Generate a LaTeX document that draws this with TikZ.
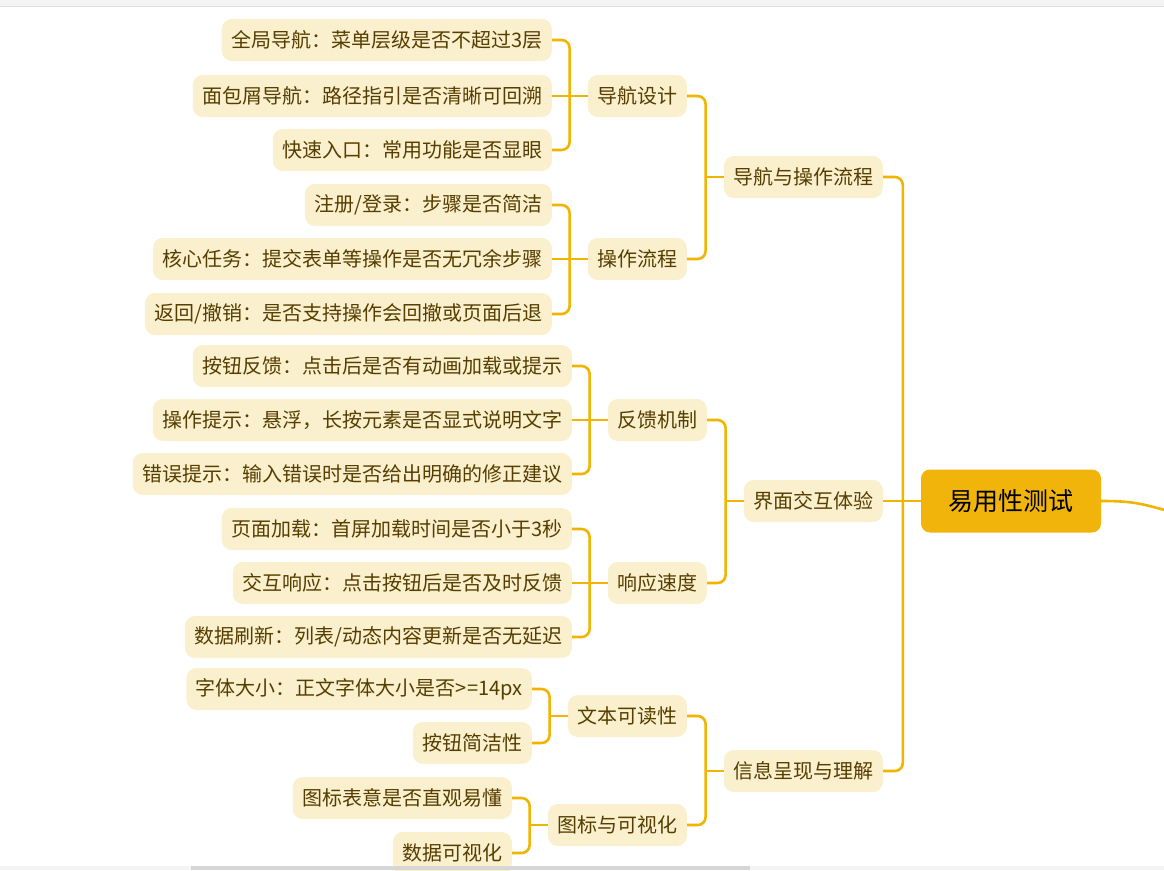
\documentclass[tikz,border=0pt]{standalone}
\usepackage{fontspec}
\newfontfamily\cjk{Noto Sans CJK SC}
\usetikzlibrary{positioning,calc}
\definecolor{MapGold}{RGB}{240,181,0}
\definecolor{RootGold}{RGB}{240,180,10}
\definecolor{NodeCream}{RGB}{251,240,206}
\definecolor{TextBrown}{RGB}{86,62,0}
\definecolor{BarGray}{RGB}{244,244,244}
\definecolor{LineGray}{RGB}{224,224,224}
\definecolor{ThumbGray}{RGB}{214,214,214}
\tikzset{
  rootbox/.style={fill=RootGold,rounded corners=9pt,minimum width=180pt,
                  minimum height=63pt,inner sep=0pt,
                  font=\cjk\fontsize{25}{30}\selectfont,text=black},
  lbox/.style={fill=NodeCream,rounded corners=10pt,minimum height=42pt,
               inner xsep=9.5pt,inner ysep=0pt,anchor=east,
               font=\cjk\fontsize{20}{24}\selectfont,text=TextBrown},
  link/.style={MapGold,line width=2.6pt,rounded corners=8pt},
}
\begin{document}
\begin{tikzpicture}[x=1pt,y=-1pt]
        \useasboundingbox[fill=white] (0,0) rectangle (1164,870);
        \node[rootbox] (root) at (1011,501) {易用性测试};
        \node[lbox] (flow) at (883,177) {导航与操作流程};
        \node[lbox] (ui) at (883,501) {界面交互体验};
        \node[lbox] (info) at (883,771) {信息呈现与理解};
        \node[lbox] (navd) at (687,96) {导航设计};
        \node[lbox] (opfl) at (687,259) {操作流程};
        \node[lbox] (fdbk) at (707,420) {反馈机制};
        \node[lbox] (resp) at (707,583) {响应速度};
        \node[lbox] (read) at (687,716) {文本可读性};
        \node[lbox] (icon) at (687,825) {图标与可视化};
        \node[lbox] (n1) at (552,40) {全局导航：菜单层级是否不超过3层};
        \node[lbox] (n2) at (552,96) {面包屑导航：路径指引是否清晰可回溯};
        \node[lbox] (n3) at (552,150) {快速入口：常用功能是否显眼};
        \node[lbox] (o1) at (552,205) {注册/登录：步骤是否简洁};
        \node[lbox] (o2) at (552,259) {核心任务：提交表单等操作是否无冗余步骤};
        \node[lbox] (o3) at (552,314) {返回/撤销：是否支持操作会回撤或页面后退};
        \node[lbox] (f1) at (572,366) {按钮反馈：点击后是否有动画加载或提示};
        \node[lbox] (f2) at (572,420) {操作提示：悬浮，长按元素是否显式说明文字};
        \node[lbox] (f3) at (572,474) {错误提示：输入错误时是否给出明确的修正建议};
        \node[lbox] (r1) at (572,529) {页面加载：首屏加载时间是否小于3秒};
        \node[lbox] (r2) at (572,583) {交互响应：点击按钮后是否及时反馈};
        \node[lbox] (r3) at (572,637) {数据刷新：列表/动态内容更新是否无延迟};
        \node[lbox] (t1) at (532,689) {字体大小：正文字体大小是否>=14px};
        \node[lbox] (t2) at (532,743) {按钮简洁性};
        \node[lbox] (i1) at (512,798) {图标表意是否直观易懂};
        \node[lbox] (i2) at (512,853) {数据可视化};
        % stubs and branch bars
        \foreach \p in {root,flow,ui,info,navd,opfl,fdbk,resp,read,icon}
          \draw[link] (\p.west) -- ++(-18,0) coordinate (j\p);
        \draw[link] (flow.east) -| (jroot) |- (info.east); \draw[link] (ui.east) -- (jroot);
        \draw[link] (navd.east) -| (jflow) |- (opfl.east);
        \draw[link] (fdbk.east) -| (jui) |- (resp.east);
        \draw[link] (read.east) -| (jinfo) |- (icon.east);
        \draw[link] (n1.east) -| (jnavd) |- (n3.east); \draw[link] (n2.east) -- (jnavd);
        \draw[link] (o1.east) -| (jopfl) |- (o3.east); \draw[link] (o2.east) -- (jopfl);
        \draw[link] (f1.east) -| (jfdbk) |- (f3.east); \draw[link] (f2.east) -- (jfdbk);
        \draw[link] (r1.east) -| (jresp) |- (r3.east); \draw[link] (r2.east) -- (jresp);
        \draw[link] (t1.east) -| (jread) |- (t2.east);
        \draw[link] (i1.east) -| (jicon) |- (i2.east);
        % branch leaving to the right
        \coordinate (rout) at (1172,512);
        \draw[link] (root.east) .. controls (1135,501) and (1142,504) .. (rout);
        % window edges
        \fill[BarGray] (0,0) rectangle (1164,6);
        \draw[LineGray] (0,6) -- (1164,6);
        \fill[BarGray] (0,866) rectangle (1164,870);
        \fill[ThumbGray] (191,866) rectangle (750,870);
      \end{tikzpicture}
\end{document}
